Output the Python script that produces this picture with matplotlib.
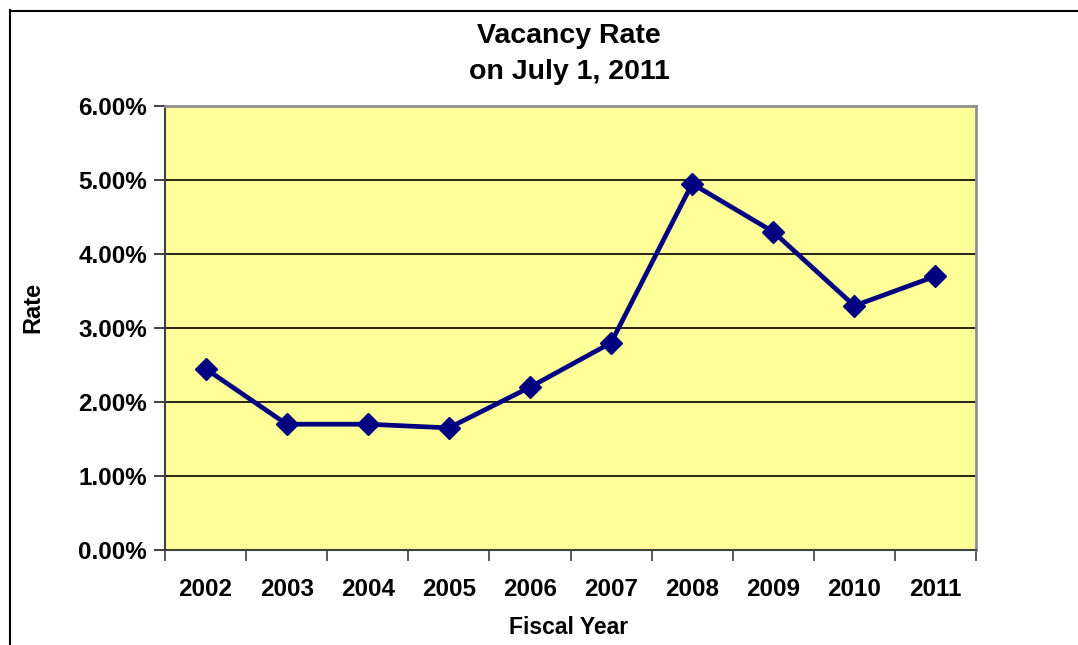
import matplotlib
matplotlib.use("Agg")
import matplotlib.pyplot as plt
from matplotlib.lines import Line2D
from matplotlib.ticker import FuncFormatter, FixedLocator

years = ["2002", "2003", "2004", "2005", "2006", "2007", "2008", "2009", "2010", "2011"]
rates = [2.45, 1.70, 1.70, 1.65, 2.20, 2.80, 4.95, 4.30, 3.30, 3.70]
y_ticks = [0, 1, 2, 3, 4, 5, 6]

plt.rcParams['font.family'] = ['Liberation Sans', 'DejaVu Sans']
plt.rcParams['font.weight'] = 'bold'

fig = plt.figure(figsize=(10.78, 6.45), dpi=100)
ax = fig.add_axes([165/1078, 1-550/645, (976-165)/1078, (550-106)/645])
ax.set_facecolor('#FFFF99')

x = list(range(len(years)))
ax.plot(x, rates, color='#000080', lw=3.4, marker='D', ms=11.5,
        markerfacecolor='#000080', markeredgecolor='#000080', zorder=3, clip_on=False)

ax.set_xlim(-0.5, len(years) - 0.5)
ax.set_ylim(0, 6)
ax.set_yticks(y_ticks)
ax.yaxis.set_major_formatter(FuncFormatter(lambda v, p: f"{v:.2f}%"))
ax.yaxis.grid(True, color='black', lw=1.2)
ax.set_axisbelow(True)

ax.set_xticks(x)
ax.set_xticklabels(years)
ax.xaxis.set_minor_locator(FixedLocator([i - 0.5 for i in range(len(years) + 1)]))
ax.tick_params(axis='x', which='major', length=0, pad=20, labelsize=17.5)
ax.tick_params(axis='x', which='minor', length=8, width=1.2, color='#404040', direction='out')
ax.tick_params(axis='y', length=8, width=1.2, color='#202020', direction='out', pad=5, labelsize=17.5)

for s in ['top', 'right']:
    ax.spines[s].set_color('#909090')
    ax.spines[s].set_linewidth(2)
for s in ['left', 'bottom']:
    ax.spines[s].set_color('#404040')
    ax.spines[s].set_linewidth(1.5)

for lbl in ax.get_xticklabels() + ax.get_yticklabels():
    lbl.set_fontweight('bold')

fig.text(569/1078, 1 - 36/645, "Vacancy Rate", ha='center', va='center', fontsize=20.5, fontweight='bold')
fig.text(569/1078, 1 - 72/645, "on July 1, 2011", ha='center', va='center', fontsize=20.5, fontweight='bold')
fig.text(569/1078, 1 - 628/645, "Fiscal Year", ha='center', va='center', fontsize=16.5, fontweight='bold')
fig.text(33/1078, 1 - 307/645, "Rate", ha='center', va='center', rotation=90, fontsize=17, fontweight='bold')

fig.add_artist(Line2D([9.5/1078, 9.5/1078], [0, 1 - 10/645], transform=fig.transFigure, color='black', lw=1.5))
fig.add_artist(Line2D([9.5/1078, 1], [1 - 10.5/645, 1 - 10.5/645], transform=fig.transFigure, color='black', lw=1.5))

fig.savefig("out.png", dpi=100)
